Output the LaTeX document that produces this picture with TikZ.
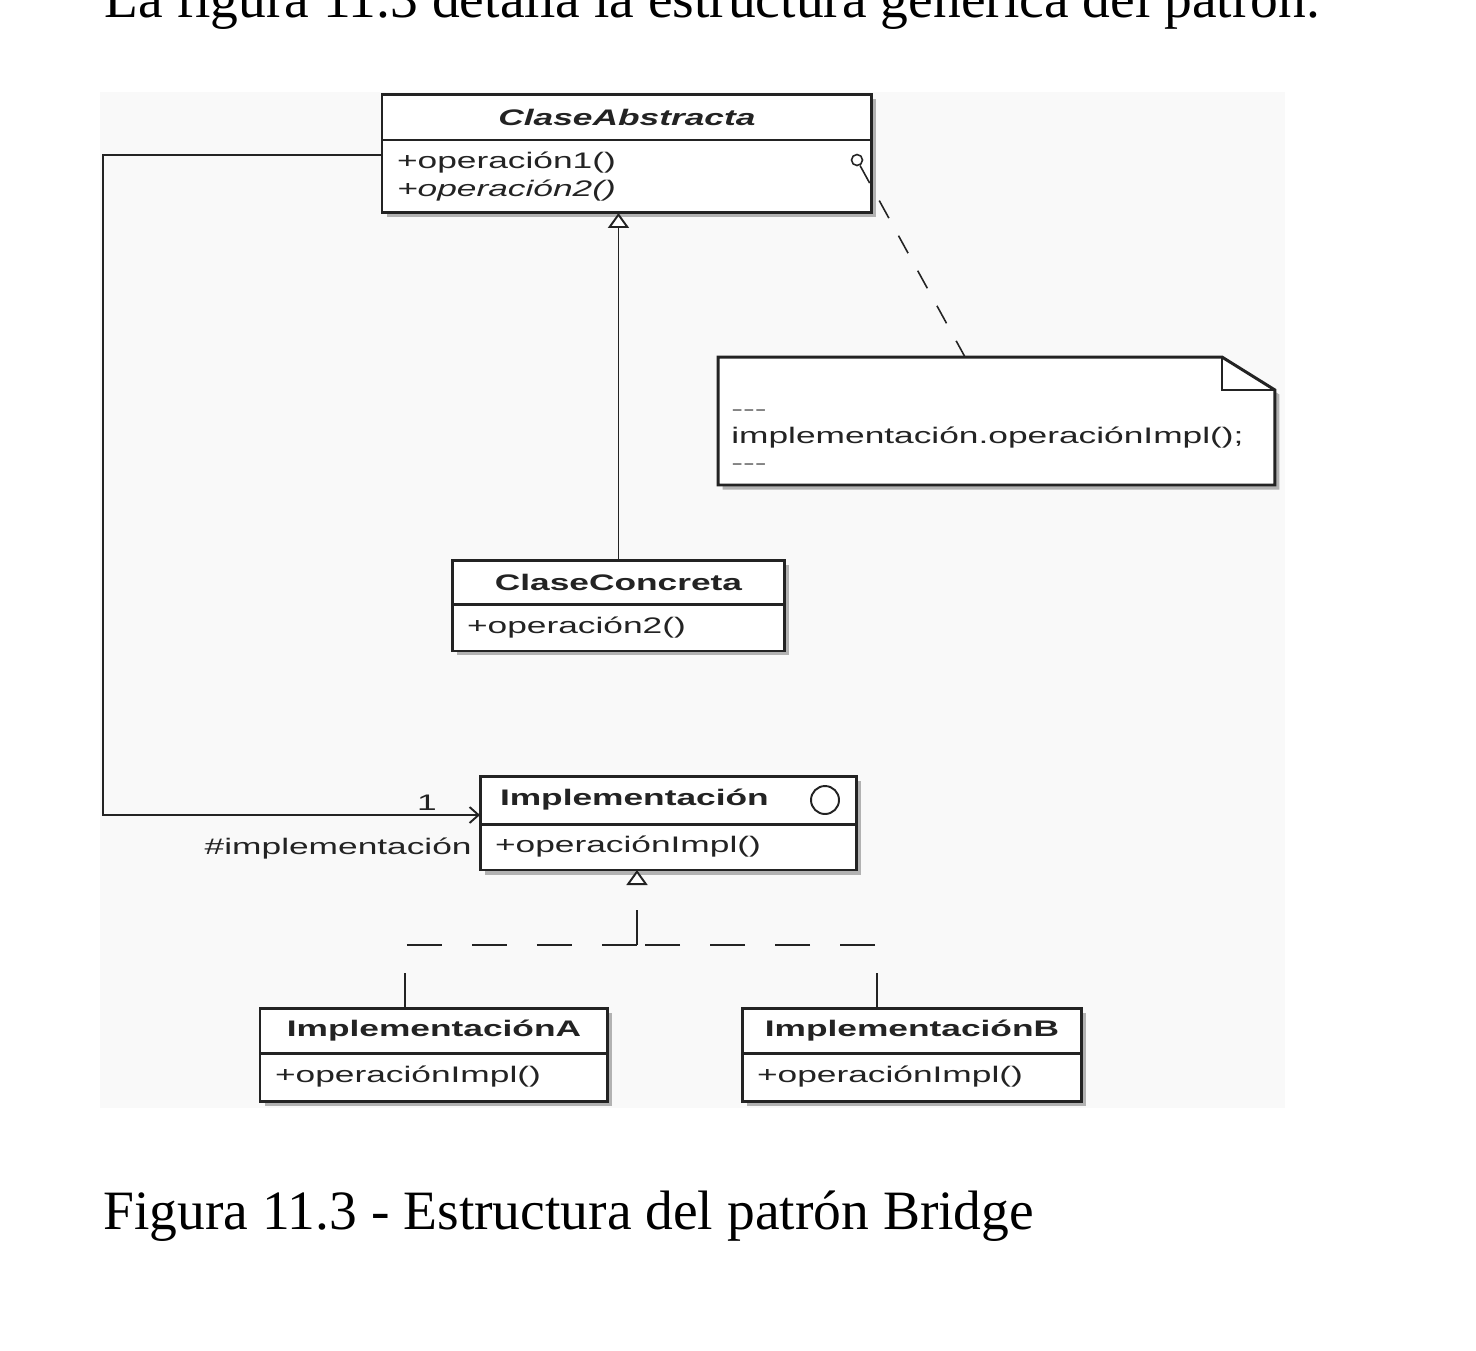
\documentclass[tikz,border=0pt]{standalone}
\usepackage{fontspec}
\setmainfont{Liberation Serif}
\newfontfamily\umlfont[FakeStretch=1.57]{Liberation Sans}
\usetikzlibrary{arrows.meta,positioning,shadows}
\definecolor{bgc}{RGB}{249,249,249}
\definecolor{shc}{RGB}{178,178,178}
\definecolor{ln}{RGB}{35,35,35}
\definecolor{dim}{RGB}{120,120,120}
\tikzstyle{umltext} = [font=\umlfont\fontsize{12.8}{15.6}\selectfont, text=ln]
\tikzstyle{umlbold} = [font=\umlfont\bfseries\fontsize{12.8}{15.6}\selectfont, text=ln]
\tikzset{
  classbox/.style={
    draw=ln, line width=1.7pt, fill=white,
    inner sep=0pt, outer sep=0pt,
    drop shadow={shadow xshift=0.09cm, shadow yshift=-0.09cm, fill=shc, opacity=1}
  },
  classhead/.style={classbox, umlbold, anchor=north west},
  classbody/.style={classbox, umltext, align=left, inner xsep=0.3cm},
  assoc/.style={draw=ln, line width=1.1pt},
  realize/.style={draw=ln, line width=1.1pt, dash pattern=on 0.7cm off 0.6cm},
  notelink/.style={draw=ln, line width=0.9pt, dash pattern=on 0.4cm off 0.4cm}
}

\begin{document}
\begin{tikzpicture}[x=0.02cm, y=-0.02cm]
\useasboundingbox (0,0) rectangle (1476,1350);
\fill[bgc] (100,92) rectangle (1285,1108);

\node[anchor=base west, inner sep=0, font=\fontsize{31.6}{38}\selectfont] (intro) at (104,17) {La figura 11.3 detalla la estructura genérica del patrón.};
\node[anchor=base west, inner sep=0, font=\fontsize{31.6}{38}\selectfont] (caption) at (103,1229) {Figura 11.3 - Estructura del patrón Bridge};

% clases
\node[classhead, minimum width=9.8cm, minimum height=0.92cm] (abshead) at (382,94) {\textit{ClaseAbstracta}};
\node[classbody, text width=9.2cm, minimum height=1.46cm, below=0pt of abshead] (absbody) {+operación1()\\\textit{+operación2()}};

\node[classhead, minimum width=6.66cm, minimum height=0.88cm] (conhead) at (452,560) {ClaseConcreta};
\node[classbody, text width=6.06cm, minimum height=0.94cm, below=0pt of conhead] (conbody) {+operación2()};

\node[classhead, text width=6.74cm, inner xsep=0.4cm, align=left, minimum height=0.96cm] (imphead) at (480,776) {Implementación};
\node[classbody, text width=6.94cm, minimum height=0.92cm, below=0pt of imphead] (impbody) {+operaciónImpl()};
\node[circle, draw=ln, line width=1.1pt, minimum size=0.56cm, inner sep=0] (impicon) at (825,800) {};

\node[classhead, minimum width=6.96cm, minimum height=0.9cm] (ahead) at (260,1008) {ImplementaciónA};
\node[classbody, text width=6.36cm, minimum height=0.96cm, below=0pt of ahead] (abody) {+operaciónImpl()};

\node[classhead, minimum width=6.8cm, minimum height=0.9cm] (bhead) at (742,1008) {ImplementaciónB};
\node[classbody, text width=6.2cm, minimum height=0.96cm, below=0pt of bhead] (bbody) {+operaciónImpl()};

% nota
\node[minimum width=11.14cm, minimum height=2.56cm, inner sep=0, outer sep=0] (note) at (996.5,421) {};
\draw[draw=ln, line width=1.7pt, fill=white,
  preaction={fill=shc, transform canvas={shift={(0.09cm,-0.09cm)}}}]
  (note.south west) -- (note.north west) -- ([xshift=-1.06cm]note.north east)
  -- ([yshift=-0.66cm]note.north east) -- (note.south east) -- cycle;
\draw[draw=ln, line width=1.1pt] ([xshift=-1.06cm]note.north east) |- ([yshift=-0.66cm]note.north east);
\node[umltext, anchor=west, align=left, inner sep=0] (notetext) at (731,440)
  {{\color{dim}-{}-{}-}\\implementación.operaciónImpl();\\{\color{dim}-{}-{}-}};

\node[circle, draw=ln, line width=0.9pt, minimum size=0.22cm, inner sep=0] (notedot) at (857,160) {};
\draw[notelink] (notedot) -- ([xshift=-0.63cm]note.north);

% herencia
\draw[assoc, -{Triangle[length=0.3cm, width=0.42cm, fill=white]}] (conhead.north) -- (conhead.north |- absbody.south);

% asociacion
\coordinate (corner) at (103,155);
\draw[assoc, -{Straight Barb[length=0.18cm, width=0.32cm]}] (absbody.west |- corner) -- (corner) |- ([yshift=0.18cm]imphead.south west);
\node[umltext] (mult) at (427,803) {1};
\node[umltext, anchor=east, inner sep=0] (role) at (472,849) {\#implementación};

% realizacion
\coordinate (split) at (637,945);
\draw[realize, -{Triangle[length=0.3cm, width=0.42cm, fill=white]}] (split) -- (split |- impbody.south);
\draw[realize] (ahead.north -| 405,0) |- (split);
\draw[realize] (bhead.north -| 877,0) |- (split);

\end{tikzpicture}
\end{document}
